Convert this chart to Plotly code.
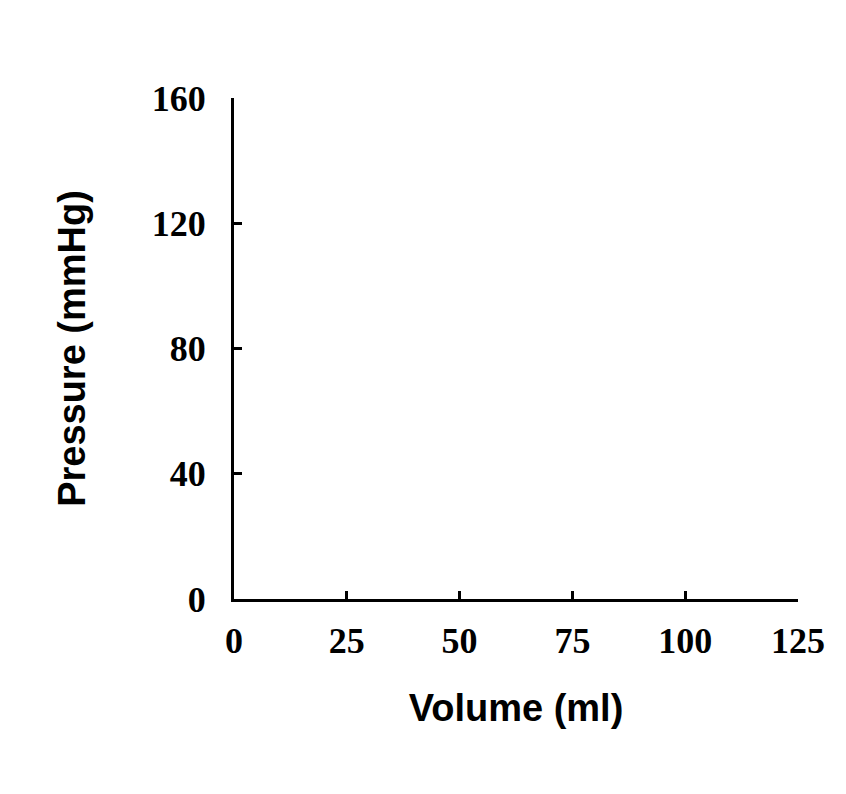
import plotly.graph_objects as go

x_ticks = [0, 25, 50, 75, 100, 125]
y_ticks = [0, 40, 80, 120, 160]
x_label = "Volume (ml)"
y_label = "Pressure (mmHg)"

fig = go.Figure()
fig.add_trace(go.Scatter(x=[], y=[], mode="lines", showlegend=False))

tickfont = dict(family="Liberation Serif", size=36, color="black")
titlefont = dict(family="Liberation Sans", size=38, color="black")

fig.update_layout(
    width=846, height=794,
    margin=dict(l=226, r=56, t=90, b=203),
    paper_bgcolor="white", plot_bgcolor="white",
    xaxis=dict(range=[0, 125], tickvals=x_ticks, ticktext=[f"<b>{v}</b>" for v in x_ticks],
               showline=True, linecolor="black", linewidth=3, ticks="inside",
               ticklen=8, tickwidth=3, tickcolor="black", showgrid=False, zeroline=False,
               ticklabelstandoff=8,
               tickfont=tickfont, title=dict(text=f"<b>{x_label}</b>", font=titlefont, standoff=35)),
    yaxis=dict(range=[0, 160], tickvals=y_ticks, ticktext=[f"<b>{v}</b>" for v in y_ticks],
               showline=True, linecolor="black", linewidth=3, ticks="inside",
               ticklen=8, tickwidth=3, tickcolor="black", showgrid=False, zeroline=False,
               ticklabelstandoff=18,
               tickfont=tickfont, title=dict(text=f"<b>{y_label}</b>", font=titlefont, standoff=55)),
)
fig.write_html("out.html")
